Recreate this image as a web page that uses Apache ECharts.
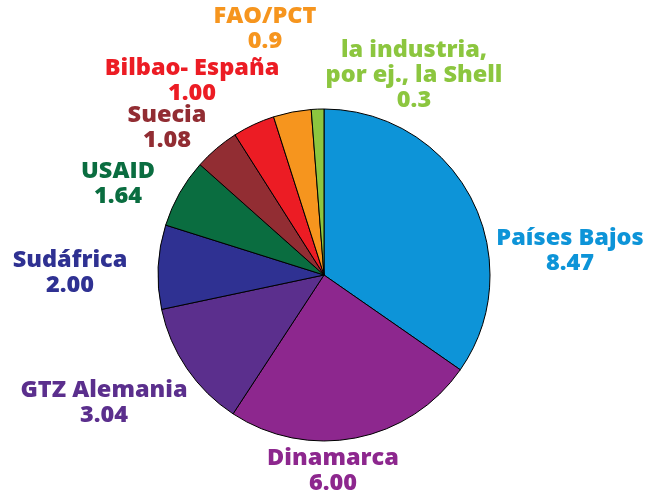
<!DOCTYPE html>
<html><head><meta charset="utf-8">
<script src="https://cdn.jsdelivr.net/npm/echarts@6/dist/echarts.min.js"></script>
<style>html,body{margin:0;padding:0;background:#fff}#c{width:651px;height:490px}</style>
</head><body><div id="c"></div>
<script>
const names = ['Países Bajos','Dinamarca','GTZ Alemania','Sudáfrica','USAID','Suecia','Bilbao- España','FAO/PCT','la industria,\npor ej., la Shell'];
const values = [8.47, 6.00, 3.04, 2.00, 1.64, 1.08, 1.00, 0.9, 0.3];
const valueText = ['8.47','6.00','3.04','2.00','1.64','1.08','1.00','0.9','0.3'];
const colors = ['#0d94d8','#8d278e','#5b2f8d','#2f3192','#0a6d40','#922d33','#ec1c24','#f6951e','#8cc63f'];
// label anchor (center x, top y)
const labelPos = [[570,226],[333,446],[104,378],[70,248],[118,159],[167,103],[192,56],[265,4],[414,38]];

const chart = echarts.init(document.getElementById('c'));
chart.setOption({
  animation:false,
  series:[{
    type:'pie',
    center:[324,275],
    radius:166,
    startAngle:90,
    clockwise:true,
    avoidLabelOverlap:false,
    itemStyle:{borderColor:'#000',borderWidth:1},
    label:{
      show:true,
      position:'outside',
      overflow:'none',
      alignTo:'none',
      formatter:p=>p.name+'\n'+valueText[p.dataIndex],
      fontFamily:'Open Sans',
      fontWeight:800,
      fontSize:23.5,
      lineHeight:25,
      align:'center'
    },
    labelLine:{show:false},
    labelLayout:function(params){
      const p = labelPos[params.dataIndex];
      return {x:p[0], y:p[1], align:'center', verticalAlign:'top', hideOverlap:false, moveOverlap:false};
    },
    data:names.map((n,i)=>({name:n,value:values[i],itemStyle:{color:colors[i]},label:{color:colors[i]}}))
  }]
});
</script></body></html>
